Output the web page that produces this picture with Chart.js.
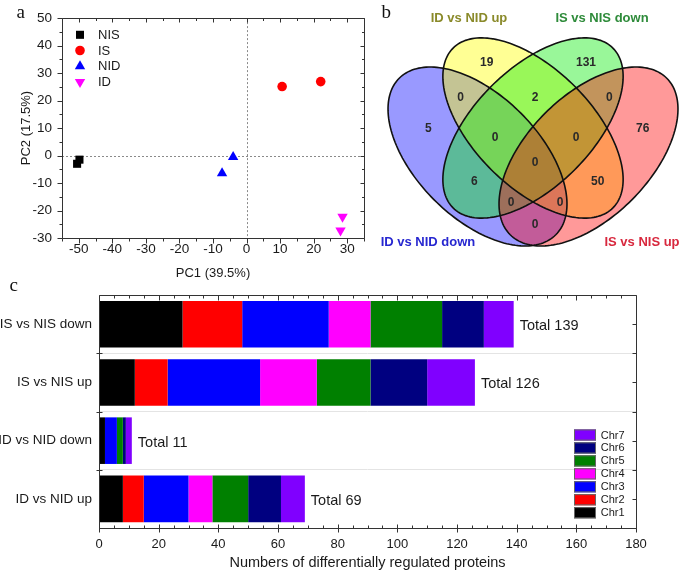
<!DOCTYPE html>
<html><head><meta charset="utf-8">
<script src="https://cdn.jsdelivr.net/npm/chart.js@4.4.1/dist/chart.umd.min.js"></script>
<style>
html,body{margin:0;padding:0;background:#fff;overflow:hidden}
#wrap{position:relative;width:685px;height:572px;background:#fff}
canvas{position:absolute;display:block}
</style></head>
<body><div id="wrap">
<canvas id="ca" width="370" height="285" style="left:0;top:0"></canvas>
<canvas id="cb" width="315" height="265" style="left:370px;top:0"></canvas>
<canvas id="cc" width="685" height="292" style="left:0;top:280px"></canvas>
</div>
<script>
// ---------------- Panel a: PCA scores ----------------
const pcaGroups = ['NIS', 'IS', 'NID', 'ID'];
const nisX = [-49.8, -50.5], nisY = [-1.5, -3.0];
const isX  = [10.6, 22.1],   isY  = [25.1, 26.9];
const nidX = [-4.0, -7.3],   nidY = [-0.5, -6.4];
const idX  = [28.6, 28.0],   idY  = [-22.3, -27.3];
const pc1Ticks = [-50, -40, -30, -20, -10, 0, 10, 20, 30];
const pc2Ticks = [-30, -20, -10, 0, 10, 20, 30, 40, 50];

// ---------------- Panel b: Venn counts ----------------
// A = ID vs NID down, B = ID vs NID up, C = IS vs NIS down, D = IS vs NIS up
const vennSets    = ['ID vs NID down', 'ID vs NID up', 'IS vs NIS down', 'IS vs NIS up'];
const vennRegions = ['A', 'B', 'C', 'D', 'AB', 'BC', 'CD', 'ABC', 'BCD', 'AC', 'BD', 'ABCD', 'ACD', 'ABD', 'AD'];
const vennCounts  = [5, 19, 131, 76, 0, 2, 0, 0, 0, 6, 50, 0, 0, 0, 0];

// ---------------- Panel c: stacked bars ----------------
const comparisons = ['IS vs NIS down', 'IS vs NIS up', 'ID vs NID down', 'ID vs NID up'];
const chromosomes = ['Chr1', 'Chr2', 'Chr3', 'Chr4', 'Chr5', 'Chr6', 'Chr7'];
const chr1 = [28, 12, 2, 8];
const chr2 = [20, 11, 0, 7];
const chr3 = [29, 31, 4, 15];
const chr4 = [14, 19, 0, 8];
const chr5 = [24, 18, 2, 12];
const chr6 = [14, 19, 1, 11];
const chr7 = [10, 16, 2, 8];
const countTicks = [0, 20, 40, 60, 80, 100, 120, 140, 160, 180];

// =====================================================
const FONT = "'Liberation Sans', Arial, sans-serif";
Chart.defaults.font.family = FONT;
Chart.defaults.color = '#1a1a1a';
Chart.defaults.animation = false;

function marker(ctx, style, x, y, r, color) {
  ctx.fillStyle = color; ctx.beginPath();
  if (style === 'rect') { const s = r * Math.SQRT1_2; ctx.rect(x - s, y - s, 2 * s, 2 * s); }
  else if (style === 'circle') { ctx.arc(x, y, r, 0, Math.PI * 2); }
  else if (style === 'up') { ctx.moveTo(x, y - r); ctx.lineTo(x + r * 0.866, y + r / 2); ctx.lineTo(x - r * 0.866, y + r / 2); ctx.closePath(); }
  else { ctx.moveTo(x, y + r); ctx.lineTo(x + r * 0.866, y - r / 2); ctx.lineTo(x - r * 0.866, y - r / 2); ctx.closePath(); }
  ctx.fill();
}
function seq(a, b, s) { const o = []; for (let v = a; v <= b + 1e-9; v += s) o.push(Math.round(v * 100) / 100); return o; }
function line(ctx, x1, y1, x2, y2) { ctx.moveTo(x1, y1); ctx.lineTo(x2, y2); }

// ---------------- Chart A ----------------
const pcaStyles = [
  { ps: 'rect', r: 5.7, c: '#000000', lg: 'rect' },
  { ps: 'circle', r: 4.8, c: '#ff0000', lg: 'circle' },
  { ps: 'triangle', r: 6, c: '#0000ff', lg: 'up', rot: 0 },
  { ps: 'triangle', r: 6, c: '#ff00ff', lg: 'down', rot: 180 }
];
const pcaX = [nisX, isX, nidX, idX], pcaY = [nisY, isY, nidY, idY];

const panelA = {
  id: 'panelA',
  beforeDatasetsDraw(chart) {
    const { ctx, chartArea: ca, scales: { x, y } } = chart;
    ctx.save();
    ctx.strokeStyle = '#8a8a8a'; ctx.lineWidth = 1; ctx.setLineDash([2, 2]);
    const x0 = Math.round(x.getPixelForValue(0)) + 0.5, y0 = Math.round(y.getPixelForValue(0)) + 0.5;
    ctx.beginPath(); line(ctx, x0, ca.top, x0, ca.bottom); line(ctx, ca.left, y0, ca.right, y0); ctx.stroke();
    ctx.restore();
  },
  afterDatasetsDraw(chart) {
    const { ctx, chartArea: ca, scales: { x, y } } = chart;
    ctx.save();
    const L = Math.round(ca.left) + 0.5, R = Math.round(ca.right) + 0.5, T = Math.round(ca.top) + 0.5, B = Math.round(ca.bottom) + 0.5;
    ctx.strokeStyle = '#333'; ctx.lineWidth = 1;
    ctx.beginPath(); ctx.rect(L, T, R - L, B - T);
    seq(-55, 35, 5).forEach(v => {
      const px = Math.round(x.getPixelForValue(v)) + 0.5, maj = v % 10 === 0;
      line(ctx, px, B, px, B + (maj ? 5 : 3));
      line(ctx, px, T, px, T + (maj ? 4 : 2.5));
    });
    seq(-30, 50, 5).forEach(v => {
      const py = Math.round(y.getPixelForValue(v)) + 0.5, maj = v % 10 === 0;
      line(ctx, L, py, L - (maj ? 5 : 3), py);
      line(ctx, R, py, R - (maj ? 4 : 2.5), py);
    });
    ctx.stroke();
    // legend
    ctx.font = '13px ' + FONT; ctx.textBaseline = 'middle'; ctx.textAlign = 'left';
    chart.data.datasets.forEach((ds, i) => {
      const yy = ca.top + 16.7 + i * 15.7;
      marker(ctx, pcaStyles[i].lg, ca.left + 18, yy, pcaStyles[i].r, pcaStyles[i].c);
      ctx.fillStyle = '#1a1a1a'; ctx.fillText(ds.label, ca.left + 36, yy + 0.5);
    });
    // panel letter
    ctx.font = '19px "Liberation Serif", serif'; ctx.textBaseline = 'alphabetic'; ctx.fillStyle = '#111';
    ctx.fillText('a', 16.5, 17.5);
    ctx.restore();
  }
};

new Chart(document.getElementById('ca'), {
  type: 'scatter',
  data: {
    datasets: pcaGroups.map((g, i) => ({
      label: g,
      data: pcaX[i].map((v, j) => ({ x: v, y: pcaY[i][j] })),
      pointStyle: pcaStyles[i].ps,
      pointRotation: pcaStyles[i].rot || 0,
      pointRadius: pcaStyles[i].r,
      pointBackgroundColor: pcaStyles[i].c,
      pointBorderWidth: 0,
      backgroundColor: pcaStyles[i].c,
      borderColor: pcaStyles[i].c
    }))
  },
  options: {
    responsive: false,
    layout: { padding: { left: 0, top: 15, right: 4.3, bottom: 0 } },
    plugins: { legend: { display: false }, tooltip: { enabled: false } },
    scales: {
      x: {
        type: 'linear', min: -55, max: 35,
        afterBuildTicks: s => { s.ticks = pc1Ticks.map(v => ({ value: v })); },
        afterFit: s => { s.height = 47; },
        grid: { display: false, drawTicks: false }, border: { display: false },
        ticks: { font: { size: 13.5 }, padding: 3, maxRotation: 0, autoSkip: false, color: '#1a1a1a' },
        title: { display: true, text: 'PC1 (39.5%)', font: { size: 13 }, padding: { top: 0, bottom: 4 }, color: '#1a1a1a' }
      },
      y: {
        type: 'linear', min: -30, max: 50,
        afterBuildTicks: s => { s.ticks = pc2Ticks.map(v => ({ value: v })); },
        afterFit: s => { s.width = 62; },
        grid: { display: false, drawTicks: false }, border: { display: false },
        ticks: { font: { size: 13.5 }, padding: 10, autoSkip: false, color: '#1a1a1a' },
        title: { display: true, text: 'PC2 (17.5%)', font: { size: 13 }, padding: { top: 19, bottom: 0 }, color: '#1a1a1a' }
      }
    }
  },
  plugins: [panelA]
});

// ---------------- Chart B (Venn) ----------------
const vennPlugin = {
  id: 'venn',
  beforeDatasetsDraw(chart) {
    const { ctx, scales: { x, y } } = chart;
    // ellipse geometry in panel units: cx, cy, semi-major, semi-minor, angle (deg)
    const geom = [
      [-0.555, -0.285, 1.107, 0.613, -45],
      [0, 0, 1.13, 0.59, -45],
      [0, 0, 1.13, 0.59, 45],
      [0.555, -0.285, 1.107, 0.613, 45]
    ];
    const fills = ['rgba(0,0,255,0.4)', 'rgba(255,255,0,0.42)', 'rgba(0,235,0,0.4)', 'rgba(255,0,0,0.4)'];
    const path = g => {
      const [cx, cy, a, b, ang] = g, th = ang * Math.PI / 180;
      ctx.beginPath();
      for (let k = 0; k <= 180; k++) {
        const t = k / 180 * Math.PI * 2, ux = a * Math.cos(t), uy = b * Math.sin(t);
        const X = cx + ux * Math.cos(th) - uy * Math.sin(th), Y = cy + ux * Math.sin(th) + uy * Math.cos(th);
        const px = x.getPixelForValue(X), py = y.getPixelForValue(Y);
        k ? ctx.lineTo(px, py) : ctx.moveTo(px, py);
      }
      ctx.closePath();
    };
    ctx.save();
    geom.forEach((g, i) => { path(g); ctx.fillStyle = fills[i]; ctx.fill(); });
    ctx.strokeStyle = '#111'; ctx.lineWidth = 1.6;
    geom.forEach(g => { path(g); ctx.stroke(); });
    ctx.restore();
  },
  afterDatasetsDraw(chart) {
    const { ctx, scales: { x, y } } = chart;
    const pos = {
      A: [-1.047, -0.01], B: [-0.463, 0.657], C: [0.53, 0.657], D: [1.097, -0.01],
      AB: [-0.723, 0.303], BC: [0.02, 0.303], CD: [0.763, 0.303],
      ABC: [-0.38, -0.097], BCD: [0.43, -0.097],
      AC: [-0.587, -0.537], BD: [0.647, -0.537],
      ABCD: [0.02, -0.35], ACD: [-0.22, -0.743], ABD: [0.27, -0.743], AD: [0.02, -0.97]
    };
    ctx.save();
    ctx.textAlign = 'center'; ctx.textBaseline = 'middle';
    ctx.font = 'bold 12px ' + FONT; ctx.fillStyle = '#2a2a2a';
    vennRegions.forEach((r, i) => {
      const p = pos[r];
      ctx.fillText(String(vennCounts[i]), x.getPixelForValue(p[0]), y.getPixelForValue(p[1]));
    });
    const setPos = [[-1.05, -1.14], [-0.64, 1.10], [0.69, 1.10], [1.09, -1.14]];
    const setCol = ['#2727d0', '#8a8a2a', '#2e8b3a', '#d8283e'];
    ctx.font = 'bold 13px ' + FONT;
    vennSets.forEach((s, i) => {
      ctx.fillStyle = setCol[i];
      ctx.fillText(s, x.getPixelForValue(setPos[i][0]), y.getPixelForValue(setPos[i][1]));
    });
    ctx.font = '19px "Liberation Serif", serif'; ctx.textAlign = 'left'; ctx.textBaseline = 'alphabetic'; ctx.fillStyle = '#111';
    ctx.fillText('b', 11.5, 17.5);
    ctx.restore();
  }
};

new Chart(document.getElementById('cb'), {
  type: 'scatter',
  data: { datasets: [{ label: 'venn', data: [], pointRadius: 0 }] },
  options: {
    responsive: false,
    layout: { padding: 0 },
    plugins: { legend: { display: false }, tooltip: { enabled: false } },
    scales: {
      x: { type: 'linear', min: -1.63, max: 1.52, display: false },
      y: { type: 'linear', min: -1.37, max: 1.28, display: false }
    }
  },
  plugins: [vennPlugin]
});

// ---------------- Chart C (stacked bars) ----------------
const chrSeries = [chr1, chr2, chr3, chr4, chr5, chr6, chr7];
const chrColors = ['#000000', '#ff0000', '#0000ff', '#ff00ff', '#008000', '#000080', '#8000ff'];

const panelC = {
  id: 'panelC',
  afterDatasetsDraw(chart) {
    const { ctx, chartArea: ca, scales: { x, y } } = chart;
    ctx.save();
    // totals
    ctx.font = '14.5px ' + FONT; ctx.fillStyle = '#1a1a1a'; ctx.textBaseline = 'middle'; ctx.textAlign = 'left';
    comparisons.forEach((c, i) => {
      const tot = chart.data.datasets.reduce((s, ds) => s + ds.data[i], 0);
      ctx.fillText('Total ' + tot, x.getPixelForValue(tot) + 6, y.getPixelForValue(i) + 2);
    });
    // frame + ticks
    const L = Math.round(ca.left) + 0.5, R = Math.round(ca.right) + 0.5, T = Math.round(ca.top) + 0.5, B = Math.round(ca.bottom) + 0.5;
    ctx.strokeStyle = '#333'; ctx.lineWidth = 1;
    ctx.beginPath(); ctx.rect(L, T, R - L, B - T);
    seq(0, 180, 5).forEach(v => {
      const px = Math.round(x.getPixelForValue(v)) + 0.5, maj = v % 20 === 0;
      if (maj) { line(ctx, px, B - 4, px, B + 4); line(ctx, px, T, px, T + 5); }
      else { line(ctx, px, B, px, B - 3); line(ctx, px, T, px, T + 3); }
    });
    for (let i = 0; i < comparisons.length; i++) {
      const yc = Math.round(y.getPixelForValue(i)) + 0.5;
      line(ctx, R, yc, R - 4, yc);
      if (i < comparisons.length - 1) {
        const yb = Math.round((y.getPixelForValue(i) + y.getPixelForValue(i + 1)) / 2) + 0.5;
        line(ctx, L - 3, yb, L + 3, yb);
        line(ctx, R, yb, R - 4, yb);
      }
    }
    ctx.stroke();
    // legend (Chr7 on top)
    ctx.font = '11px ' + FONT; ctx.textBaseline = 'middle';
    const n = chart.data.datasets.length;
    chart.data.datasets.forEach((ds, i) => {
      const yy = ca.bottom - 15.3 - i * 12.95;
      ctx.fillStyle = ds.backgroundColor;
      ctx.fillRect(ca.right - 62, yy - 5.6, 22, 11.2);
      ctx.strokeStyle = '#666'; ctx.lineWidth = 1;
      ctx.strokeRect(ca.right - 62 + 0.5, yy - 5.6 + 0.5, 21, 10.2);
      ctx.fillStyle = '#1a1a1a';
      ctx.fillText(ds.label, ca.right - 35.3, yy + 0.5);
    });
    ctx.font = '19px "Liberation Serif", serif'; ctx.textBaseline = 'alphabetic'; ctx.fillStyle = '#111';
    ctx.fillText('c', 9.5, 10.8);
    ctx.restore();
  }
};

new Chart(document.getElementById('cc'), {
  type: 'bar',
  data: {
    labels: comparisons,
    datasets: chromosomes.map((c, i) => ({
      label: c, data: chrSeries[i], backgroundColor: chrColors[i], borderWidth: 0,
      barPercentage: 0.8, categoryPercentage: 1.0
    }))
  },
  options: {
    responsive: false,
    indexAxis: 'y',
    layout: { padding: { left: 0, top: 9, right: 49, bottom: 0 } },
    plugins: { legend: { display: false }, tooltip: { enabled: false } },
    scales: {
      x: {
        stacked: true, min: 0, max: 180,
        afterBuildTicks: s => { s.ticks = countTicks.map(v => ({ value: v })); },
        afterFit: s => { s.height = 44; },
        grid: { display: false, drawTicks: false }, border: { display: false },
        ticks: { font: { size: 13 }, padding: 9, maxRotation: 0, autoSkip: false, color: '#1a1a1a' },
        title: { display: true, text: 'Numbers of differentially regulated proteins', font: { size: 14.5 }, padding: { top: 0, bottom: 0 }, color: '#1a1a1a' }
      },
      y: {
        stacked: true,
        afterFit: s => { s.width = 99; },
        grid: { display: true, offset: true, drawTicks: false, color: '#e4e4e4', lineWidth: 1 }, border: { display: false },
        ticks: { font: { size: 13.5 }, padding: 7, color: '#1a1a1a' }
      }
    }
  },
  plugins: [panelC]
});
</script>
</body></html>
